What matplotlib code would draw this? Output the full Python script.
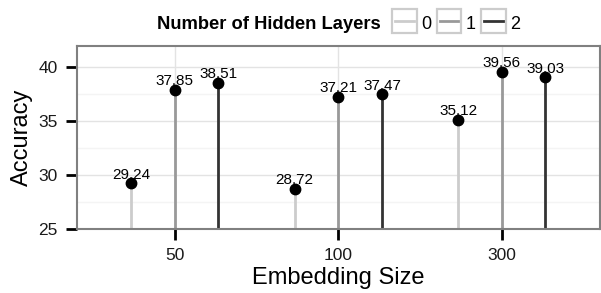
import matplotlib
matplotlib.use("Agg")
import matplotlib.pyplot as plt
import numpy as np
from matplotlib.patches import Rectangle
from matplotlib.lines import Line2D

plt.rcParams['font.family'] = ['Liberation Sans', 'DejaVu Sans']

categories = ["50", "100", "300"]
layer_labels = ["0", "1", "2"]
acc_0 = [29.24, 28.72, 35.12]
acc_1 = [37.85, 37.21, 39.56]
acc_2 = [38.51, 37.47, 39.03]
series = [acc_0, acc_1, acc_2]
colors = ["#cccccc", "#999999", "#333333"]
baseline = 25

W, H = 601, 293
fig = plt.figure(figsize=(W / 100, H / 100), dpi=100)
L, R, T, B = 76.7, 600, 45.7, 229.3
ax = fig.add_axes([L / W, (H - B) / H, (R - L) / W, (B - T) / H])

xpos = np.arange(1, len(categories) + 1)
dodge = 0.8 / 3
for j, (vals, col) in enumerate(zip(series, colors)):
    x = xpos + (j - 1) * dodge
    ax.vlines(x, baseline, vals, color=col, lw=2.0, zorder=2)
    ax.plot(x, vals, 'o', color='black', ms=7.5, zorder=3)
    for xi, v in zip(x, vals):
        ax.annotate(f"{v:.2f}", (xi, v), xytext=(0, 3.4), textcoords='offset points',
                    ha='center', va='baseline', fontsize=11, color='black', zorder=4)

ax.set_xlim(0.4, 3.6)
ax.set_ylim(25, 41.95)
ax.set_xticks(xpos)
ax.set_xticklabels(categories)
ax.set_yticks([25, 30, 35, 40])
ax.set_yticks([27.5, 32.5, 37.5], minor=True)
ax.grid(True, which='major', color='#e3e3e3', lw=1.0, zorder=0)
ax.grid(True, which='minor', axis='y', color='#f4f4f4', lw=1.0, zorder=0)
ax.set_axisbelow(True)
ax.tick_params(which='major', length=8, width=2, color='black', pad=5.5,
               labelsize=12.5, labelcolor='#1a1a1a')
ax.tick_params(which='minor', length=0)
for s in ax.spines.values():
    s.set_color('#808080')
    s.set_linewidth(1.5)

ax.set_xlabel("Embedding Size", fontsize=17, labelpad=3)
ax.set_ylabel("Accuracy", fontsize=17, labelpad=4)

# legend (manual, ggplot style, top)
base_y = 29.3
key_cy = 20.8
fig.text(157 / W, (H - base_y) / H, "Number of Hidden Layers", fontsize=13.2,
         fontweight='bold', ha='left', va='baseline')
box_x = [392, 436.5, 481]
bs = 24.5
for bx, col, lab in zip(box_x, colors, layer_labels):
    fig.patches.append(Rectangle((bx / W, (H - key_cy - bs / 2) / H), bs / W, bs / H,
                                 transform=fig.transFigure, facecolor='white',
                                 edgecolor='#cccccc', lw=1.6))
    fig.lines.append(Line2D([(bx + 3) / W, (bx + bs - 3) / W], [(H - key_cy) / H] * 2,
                            transform=fig.transFigure, color=col, lw=2))
    fig.text((bx + bs + 5) / W, (H - base_y) / H, lab, fontsize=13, ha='left',
             va='baseline')

fig.savefig("out.png", dpi=100)
